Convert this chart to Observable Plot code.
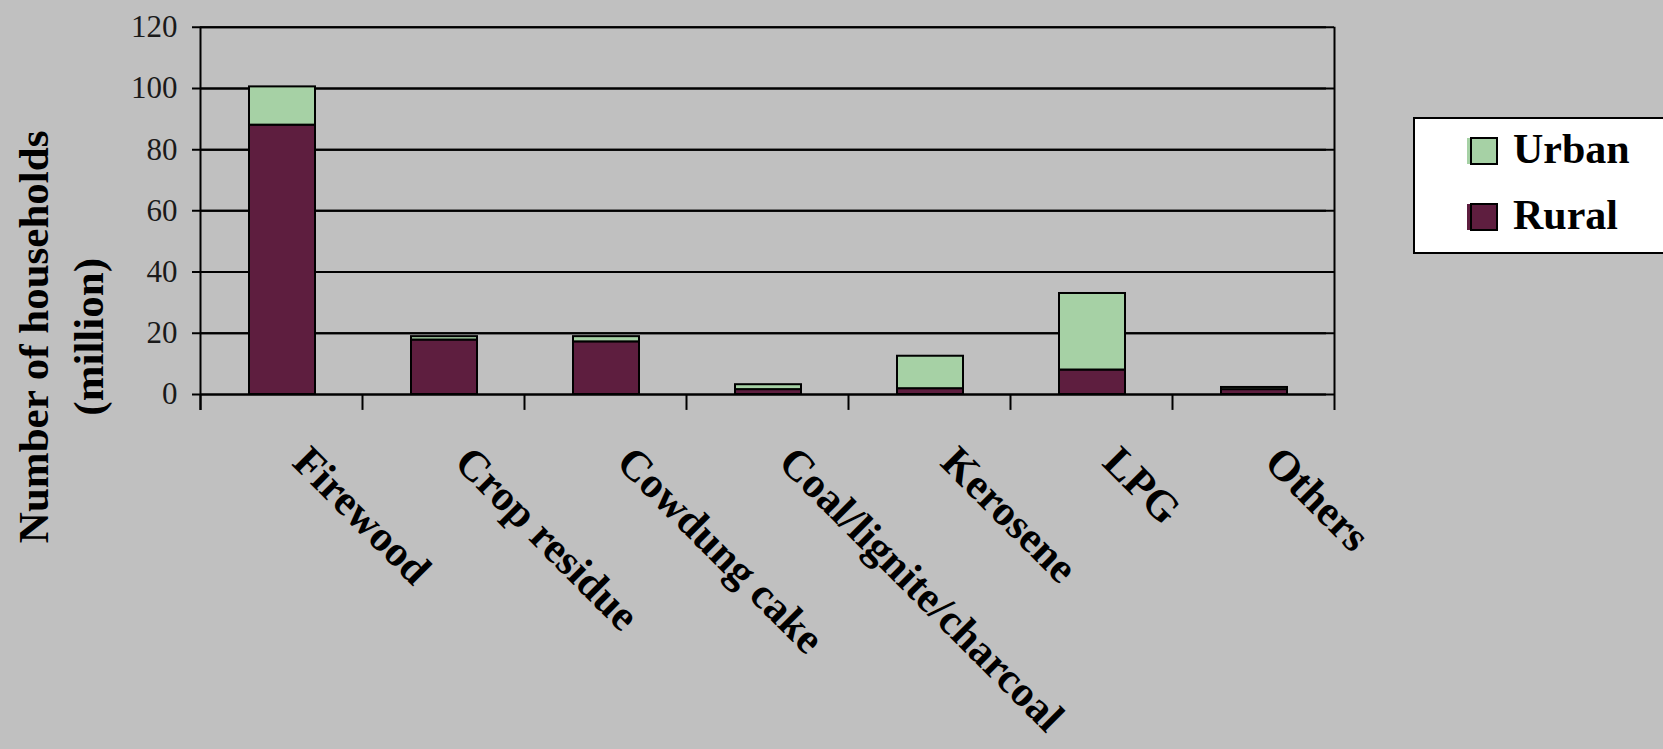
<!DOCTYPE html>
<html><head><meta charset="utf-8">
<script src="https://cdn.jsdelivr.net/npm/d3@7"></script>
<script src="https://cdn.jsdelivr.net/npm/@observablehq/plot@0.6"></script>
<style>
html,body{margin:0;padding:0;background:#c0c0c0;overflow:hidden;width:1663px;height:749px;}
#chart{position:absolute;left:0;top:0;}
#legend{position:absolute;left:1413px;top:117px;}
</style></head><body>
<div id="chart"></div>
<div id="legend"></div>
<script>
// ---- data ----
const fuels = ["Firewood","Crop residue","Cowdung cake","Coal/lignite/charcoal","Kerosene","LPG","Others"];
const rural = [88.0, 17.8, 17.2, 1.6, 1.9, 8.0, 1.6];
const urban = [12.5, 1.1, 1.7, 1.6, 10.6, 25.0, 0.7];
const seriesNames = ["Urban","Rural"];
const seriesColors = ["#a6d1a5","#5e1e3f"];
const yTicks = [0,20,40,60,80,100,120];
const yTitle = "Number of households\n(million)";

const rows = fuels.flatMap((f,i)=>[
  {fuel:f, type:"Rural", value:rural[i]},
  {fuel:f, type:"Urban", value:urban[i]}
]);

const W=1663, H=749, mL=200, mR=329, mT=26.7, mB=355;
const step=(W-mL-mR)/fuels.length;
const font="'Liberation Serif', 'Times New Roman', serif";

const chart = Plot.plot({
  width:W, height:H, marginLeft:mL, marginRight:mR, marginTop:mT, marginBottom:mB,
  style:{background:"#c0c0c0", fontFamily:font, color:"#000", fontSize:"31px"},
  x:{domain:fuels, padding:0, axis:null},
  y:{domain:[0,120], axis:null},
  color:{domain:seriesNames, range:seriesColors},
  marks:[
    Plot.ruleY(yTicks, {y:d=>d, stroke:"#000", strokeWidth:2}),
    Plot.ruleY(yTicks, {y:d=>d, stroke:"#000", strokeWidth:2, dx:-8}),
    Plot.text(yTicks, {y:d=>d, text:d=>String(d), frameAnchor:"left", dx:-23, textAnchor:"end", fontSize:31, fill:"#1a1a1a"}),
    Plot.ruleX(fuels, {x:d=>d, dx:-step/2, y1:d=>-5.2, y2:d=>0, stroke:"#000", strokeWidth:2}),
    Plot.ruleX([fuels[0]], {x:d=>d, dx:-step/2, y1:d=>-5.2, y2:d=>120, stroke:"#000", strokeWidth:2}),
    Plot.ruleX([fuels[fuels.length-1]], {x:d=>d, dx:step/2, y1:d=>-5.2, y2:d=>120, stroke:"#000", strokeWidth:2}),
    Plot.barY(rows, {x:"fuel", y:"value", fill:"type", stroke:"#000", strokeWidth:2, order:["Rural","Urban"], insetLeft:49, insetRight:47}),
    Plot.text(fuels, {x:d=>d, y:d=>0, text:d=>d, rotate:45, textAnchor:"start", dx:19, dy:60, fontSize:43, fontWeight:"bold", fill:"#000"}),
    Plot.text([yTitle], {frameAnchor:"left", text:d=>d, rotate:-90, textAnchor:"middle", dx:-143, dy:126, fontSize:43, fontWeight:"bold", lineHeight:1.28, fill:"#000"})
  ]
});
document.getElementById("chart").appendChild(chart);

// ---- legend ----
const lg = d3.select("#legend").append("svg").attr("width",250).attr("height",140);
lg.append("rect").attr("x",1).attr("y",1).attr("width",300).attr("height",135)
  .attr("fill","#fff").attr("stroke","#000").attr("stroke-width",2);
seriesNames.forEach((name,i)=>{
  const y0 = 21 + i*66;
  lg.append("rect").attr("x",54).attr("y",y0).attr("width",26).attr("height",26)
    .attr("fill",seriesColors[i]);
  lg.append("rect").attr("x",58).attr("y",y0).attr("width",26).attr("height",26)
    .attr("fill",seriesColors[i]).attr("stroke","#000").attr("stroke-width",2);
  lg.append("text").attr("x",100).attr("y",y0+25).text(name)
    .attr("font-family",font).attr("font-weight","bold").attr("font-size",42).attr("fill","#000");
});
</script>
</body></html>
